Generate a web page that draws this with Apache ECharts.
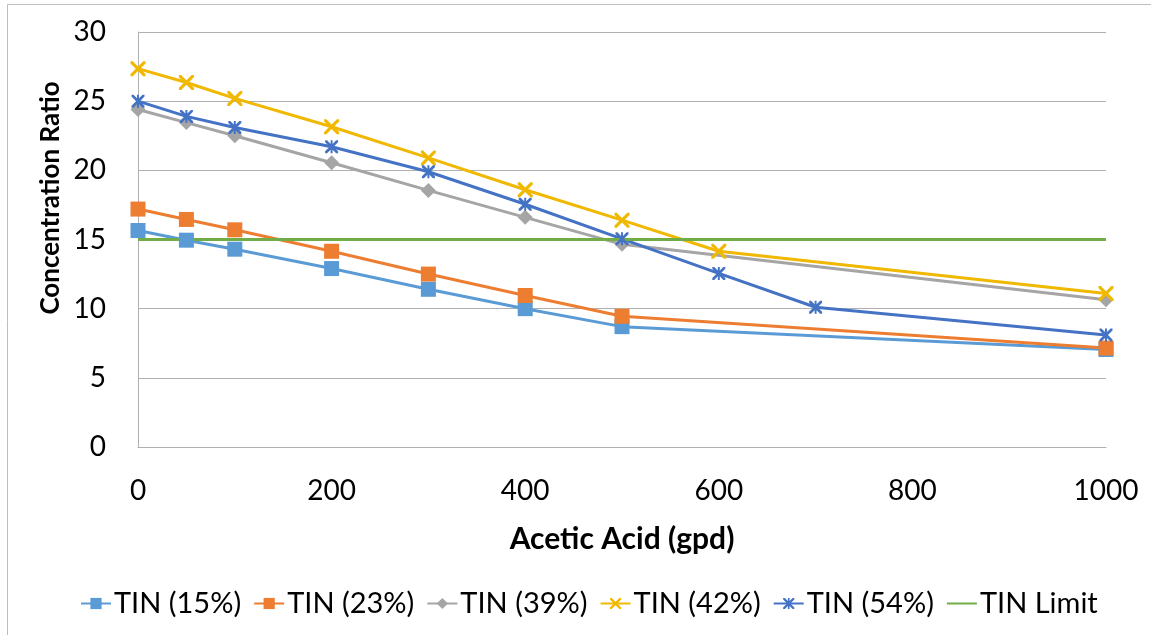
<!DOCTYPE html>
<html>
<head>
<meta charset="utf-8">
<script src="https://cdn.jsdelivr.net/npm/echarts@6/dist/echarts.min.js"></script>
<style>
html,body{margin:0;padding:0;background:#fff;}
#main{width:1151px;height:635px;}
</style>
</head>
<body>
<div id="main"></div>
<script>
// 数据
var names = ['TIN (15%)', 'TIN (23%)', 'TIN (39%)', 'TIN (42%)', 'TIN (54%)', 'TIN Limit'];
var x15 = [0, 50, 100, 200, 300, 400, 500, 1000];
var y15 = [15.65, 14.95, 14.3, 12.9, 11.4, 10.0, 8.7, 7.05];
var x23 = [0, 50, 100, 200, 300, 400, 500, 1000];
var y23 = [17.2, 16.45, 15.7, 14.15, 12.5, 10.95, 9.45, 7.15];
var x39 = [0, 50, 100, 200, 300, 400, 500, 1000];
var y39 = [24.4, 23.45, 22.5, 20.55, 18.55, 16.6, 14.65, 10.65];
var x42 = [0, 50, 100, 200, 300, 400, 500, 600, 1000];
var y42 = [27.35, 26.35, 25.2, 23.15, 20.9, 18.6, 16.4, 14.15, 11.1];
var x54 = [0, 50, 100, 200, 300, 400, 500, 600, 700, 1000];
var y54 = [25.0, 23.9, 23.1, 21.7, 19.9, 17.55, 15.05, 12.55, 10.1, 8.1];
var xLimit = [0, 1000];
var yLimit = [15, 15];
var xTicks = [0, 200, 400, 600, 800, 1000];
var yTicks = [0, 5, 10, 15, 20, 25, 30];

function pairs(xs, ys) {
	var out = [];
	for (var i = 0; i < xs.length; i++) {
		out.push([xs[i], ys[i]]);
	}
	return out;
}

// X 形和星形标记
var xPath = 'path://M0,0 L3,0 L10,7 L17,0 L20,0 L20,3 L13,10 L20,17 L20,20 L17,20 L10,13 L3,20 L0,20 L0,17 L7,10 L0,3 Z';
var starPath = 'path://M0,0 L3,0 L8.5,5.5 L8.5,0 L11.5,0 L11.5,5.5 L17,0 L20,0 L20,3 L13,10 L20,17 L20,20 L17,20 L11.5,14.5 L11.5,20 L8.5,20 L8.5,14.5 L3,20 L0,20 L0,17 L7,10 L0,3 Z';

var colors = ['#5B9BD5', '#ED7D31', '#A5A5A5', '#F0B800', '#4472C4', '#70AD47'];
var font = 'Lato';

function lineSeries(i, data, symbol, size) {
	return {
		name: names[i],
		type: 'line',
		data: data,
		symbol: symbol,
		symbolSize: size,
		showSymbol: symbol !== 'none',
		lineStyle: { width: 3, color: colors[i] },
		itemStyle: { color: colors[i] },
		emphasis: { disabled: true },
		animation: false
	};
}

var legendData = names.map(function (n, i) {
	if (i === names.length - 1) {
		return { name: n, itemStyle: { opacity: 0 } };
	}
	return { name: n };
});

var myChart = echarts.init(document.getElementById('main'));
var option = {
	animation: false,
	color: colors,
	grid: { left: 138, right: 45, top: 32, bottom: 188 },
	xAxis: {
		type: 'value',
		min: xTicks[0],
		max: xTicks[xTicks.length - 1],
		interval: 200,
		axisLine: { lineStyle: { color: '#B0B0B0', width: 1 } },
		axisTick: { show: false },
		splitLine: { show: false },
		axisLabel: {
			color: '#000', fontFamily: font, fontSize: 28, margin: 30,
			formatter: function (v) { return String(v); }
		}
	},
	yAxis: {
		type: 'value',
		min: yTicks[0],
		max: yTicks[yTicks.length - 1],
		interval: 5,
		axisLine: { show: true, lineStyle: { color: '#B0B0B0', width: 1 } },
		axisTick: { show: false },
		splitLine: { lineStyle: { color: '#B0B0B0', width: 1 } },
		axisLabel: { color: '#000', fontFamily: font, fontSize: 28, margin: 32 }
	},
	legend: {
		data: legendData,
		bottom: 12,
		left: 75,
		itemWidth: 30,
		itemHeight: 14,
		itemGap: 12,
		textStyle: { color: '#000', fontFamily: font, fontSize: 29, padding: [0, 0, 0, -2] }
	},
	graphic: [
		{
			type: 'rect',
			shape: { x: 7.5, y: 4.5, width: 1300, height: 800 },
			style: { fill: 'none', stroke: '#BDBDBD', lineWidth: 1 },
			silent: true
		},
		{
			type: 'text',
			x: 51, y: 198,
			rotation: Math.PI / 2,
			style: {
				text: 'Concentration Ratio',
				fill: '#000',
				font: 'bold 26px Lato',
				align: 'center',
				verticalAlign: 'middle'
			}
		},
		{
			type: 'text',
			x: 622, y: 539,
			style: {
				text: 'Acetic Acid (gpd)',
				fill: '#000',
				font: 'bold 30px Lato',
				align: 'center',
				verticalAlign: 'middle'
			}
		}
	],
	series: [
		lineSeries(0, pairs(x15, y15), 'rect', 15),
		lineSeries(1, pairs(x23, y23), 'rect', 15),
		lineSeries(2, pairs(x39, y39), 'diamond', 15),
		lineSeries(3, pairs(x42, y42), xPath, 15),
		lineSeries(4, pairs(x54, y54), starPath, 13),
		lineSeries(5, pairs(xLimit, yLimit), 'none', 0)
	]
};
myChart.setOption(option);
</script>
</body>
</html>
